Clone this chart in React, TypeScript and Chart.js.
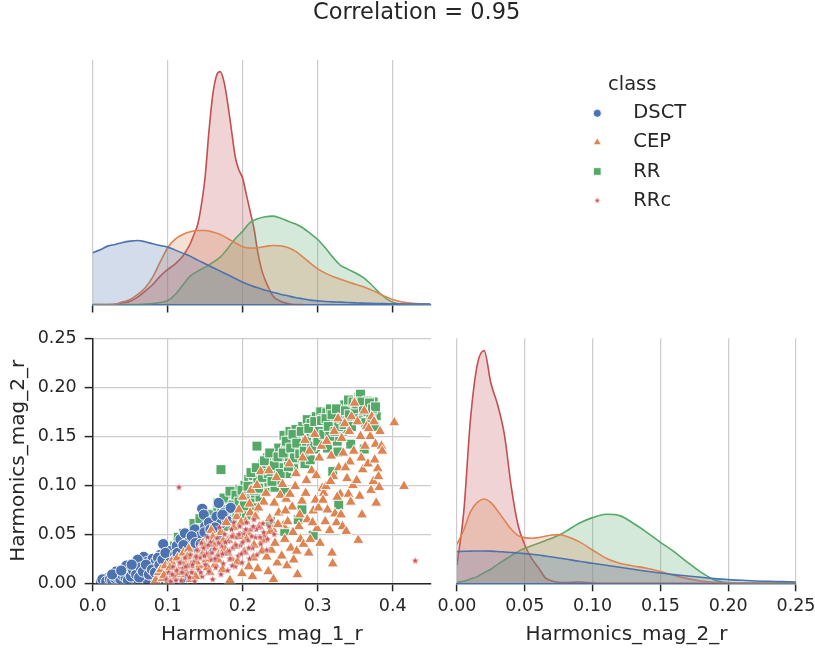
import React, { useEffect, useRef } from 'react';
import { Chart, registerables } from 'chart.js';

Chart.register(...registerables);

// ---------------- text ----------------
const TITLE = 'Correlation = 0.95';
const LEGEND_TITLE = 'class';
const CLASSES = ['DSCT', 'CEP', 'RR', 'RRc'];
const X_LABEL_1 = 'Harmonics_mag_1_r';
const X_LABEL_2 = 'Harmonics_mag_2_r';
const Y_LABEL = 'Harmonics_mag_2_r';

// ---------------- KDE of Harmonics_mag_1_r (top-left) ----------------
const kde1X = [0, 0.01, 0.02, 0.03, 0.04, 0.05, 0.06, 0.07, 0.08, 0.09, 0.1, 0.11, 0.12, 0.13, 0.14, 0.15, 0.16, 0.17, 0.18, 0.19, 0.2, 0.21, 0.22, 0.23, 0.24, 0.25, 0.26, 0.27, 0.28, 0.29, 0.3, 0.31, 0.32, 0.33, 0.34, 0.35, 0.36, 0.37, 0.38, 0.39, 0.4, 0.41, 0.42, 0.43, 0.44, 0.45];
const kde1DSCT = [1.55, 1.64, 1.75, 1.8, 1.86, 1.9, 1.92, 1.88, 1.82, 1.77, 1.72, 1.63, 1.54, 1.45, 1.33, 1.22, 1.11, 1.0, 0.89, 0.78, 0.67, 0.58, 0.5, 0.43, 0.37, 0.31, 0.26, 0.21, 0.17, 0.13, 0.11, 0.09, 0.08, 0.07, 0.06, 0.05, 0.04, 0.035, 0.03, 0.025, 0.02, 0.018, 0.015, 0.012, 0.01, 0.01];
const kde1CEP = [0, 0, 0, 0.01, 0.08, 0.15, 0.3, 0.5, 0.82, 1.28, 1.7, 1.96, 2.1, 2.18, 2.22, 2.22, 2.17, 2.1, 1.98, 1.85, 1.73, 1.69, 1.7, 1.74, 1.77, 1.76, 1.71, 1.6, 1.43, 1.24, 1.07, 0.94, 0.84, 0.76, 0.68, 0.61, 0.54, 0.45, 0.35, 0.24, 0.15, 0.09, 0.05, 0.03, 0.02, 0.01];
const kde1RR = [0, 0, 0, 0, 0, 0, 0, 0.01, 0.03, 0.06, 0.12, 0.3, 0.58, 0.85, 1.0, 1.12, 1.26, 1.42, 1.68, 1.97, 2.2, 2.46, 2.57, 2.63, 2.65, 2.59, 2.5, 2.42, 2.3, 2.13, 1.95, 1.7, 1.42, 1.18, 1.06, 0.95, 0.82, 0.63, 0.4, 0.2, 0.07, 0.02, 0, 0, 0, 0];
const kde1RRcX = [0.03, 0.04, 0.05, 0.06, 0.07, 0.08, 0.09, 0.1, 0.11, 0.12, 0.125, 0.13, 0.135, 0.14, 0.145, 0.15, 0.155, 0.16, 0.165, 0.17, 0.175, 0.18, 0.185, 0.19, 0.195, 0.2, 0.205, 0.21, 0.215, 0.22, 0.225, 0.23, 0.235, 0.24, 0.25, 0.26, 0.27, 0.28];
const kde1RRc = [0, 0.05, 0.1, 0.22, 0.4, 0.6, 0.85, 1.05, 1.22, 1.45, 1.62, 1.82, 2.1, 2.4, 3.0, 3.85, 5.2, 6.28, 6.86, 6.98, 6.68, 6.03, 5.23, 4.43, 4.03, 3.78, 3.28, 2.78, 2.28, 1.58, 1.06, 0.73, 0.48, 0.26, 0.1, 0.03, 0, 0];
const kde1Max = 7.33;

// ---------------- KDE of Harmonics_mag_2_r (bottom-right) ----------------
const kde2X = [0, 0.005, 0.01, 0.015, 0.02, 0.025, 0.03, 0.035, 0.04, 0.045, 0.05, 0.055, 0.06, 0.065, 0.07, 0.075, 0.08, 0.09, 0.1, 0.11, 0.12, 0.13, 0.14, 0.15, 0.16, 0.17, 0.18, 0.19, 0.2, 0.21, 0.22, 0.23, 0.24, 0.25];
const kde2DSCT = [0.95, 0.96, 0.965, 0.97, 0.97, 0.965, 0.955, 0.94, 0.925, 0.91, 0.89, 0.87, 0.85, 0.82, 0.79, 0.76, 0.73, 0.66, 0.6, 0.54, 0.48, 0.42, 0.36, 0.31, 0.26, 0.22, 0.18, 0.14, 0.11, 0.09, 0.07, 0.06, 0.05, 0.04];
const kde2CEP = [1.17, 1.6, 2.15, 2.43, 2.53, 2.42, 2.17, 1.89, 1.62, 1.43, 1.37, 1.35, 1.37, 1.41, 1.45, 1.46, 1.42, 1.25, 1.0, 0.75, 0.6, 0.52, 0.45, 0.35, 0.24, 0.14, 0.07, 0.03, 0.01, 0.005, 0, 0, 0, 0];
const kde2RR = [0.03, 0.06, 0.13, 0.2, 0.32, 0.42, 0.57, 0.7, 0.83, 0.95, 1.05, 1.13, 1.2, 1.28, 1.35, 1.44, 1.55, 1.8, 1.97, 2.07, 2.03, 1.8, 1.53, 1.23, 0.95, 0.63, 0.33, 0.1, 0.02, 0, 0, 0, 0, 0];
const kde2RRc = [0.55, 2.15, 4.95, 6.57, 6.98, 6.0, 5.35, 4.45, 2.9, 1.75, 1.15, 0.75, 0.47, 0.17, 0.07, 0.03, 0.02, 0.04, 0.01, 0, 0, 0, 0, 0, 0, 0, 0, 0, 0, 0, 0, 0, 0, 0];
const kde2Max = 7.35;

// ---------------- scatter: [Harmonics_mag_1_r, Harmonics_mag_2_r] ----------------
const pointsDSCT = [[0.011,0.001],[0.014,0.003],[0.017,0.001],[0.019,0.005],[0.022,0.002],[0.025,0.006],[0.027,0.001],[0.029,0.008],[0.032,0.003],[0.034,0.01],[0.036,0.001],[0.039,0.006],[0.041,0.012],[0.043,0.003],[0.046,0.009],[0.048,0.015],[0.05,0.002],[0.052,0.011],[0.055,0.006],[0.057,0.017],[0.059,0.001],[0.061,0.013],[0.063,0.021],[0.066,0.008],[0.068,0.027],[0.069,0.016],[0.072,0.004],[0.073,0.022],[0.076,0.012],[0.078,0.019],[0.08,0.025],[0.082,0.007],[0.084,0.022],[0.086,0.016],[0.088,0.002],[0.09,0.029],[0.092,0.011],[0.094,0.04],[0.095,0.021],[0.098,0.006],[0.1,0.026],[0.101,0.017],[0.104,0.033],[0.107,0.025],[0.109,0.012],[0.112,0.038],[0.114,0.02],[0.117,0.045],[0.119,0.03],[0.122,0.004],[0.123,0.051],[0.125,0.035],[0.128,0.042],[0.131,0.026],[0.134,0.037],[0.136,0.055],[0.139,0.046],[0.141,0.031],[0.143,0.048],[0.146,0.076],[0.148,0.07],[0.15,0.058],[0.152,0.035],[0.155,0.062],[0.158,0.05],[0.161,0.043],[0.165,0.068],[0.166,0.047],[0.168,0.082],[0.171,0.061],[0.175,0.072],[0.179,0.064],[0.184,0.077],[0.06,0.024],[0.045,0.018],[0.031,0.012],[0.07,0.011],[0.115,0.009],[0.13,0.015],[0.013,0.004],[0.018,0.002],[0.023,0.004],[0.026,0.003],[0.03,0.005],[0.033,0.006],[0.037,0.004],[0.04,0.008],[0.044,0.006],[0.047,0.003],[0.051,0.007],[0.054,0.013],[0.058,0.009],[0.062,0.006],[0.064,0.016],[0.067,0.012],[0.071,0.019],[0.075,0.009],[0.079,0.014],[0.083,0.011],[0.087,0.026],[0.089,0.019],[0.093,0.024],[0.097,0.031],[0.103,0.021],[0.106,0.014],[0.11,0.029],[0.113,0.031],[0.118,0.024],[0.121,0.039],[0.127,0.029],[0.132,0.048],[0.137,0.041],[0.144,0.04],[0.149,0.052],[0.157,0.055],[0.163,0.057],[0.173,0.07],[0.026,0.009],[0.038,0.013],[0.052,0.019]];
const pointsCEP = [[0.084,0.003],[0.088,0.011],[0.091,0.014],[0.093,0.005],[0.097,0.018],[0.1,0.009],[0.102,0.003],[0.105,0.022],[0.107,0.013],[0.11,0.006],[0.113,0.026],[0.115,0.017],[0.118,0.009],[0.121,0.031],[0.123,0.02],[0.125,0.012],[0.128,0.035],[0.13,0.004],[0.133,0.025],[0.135,0.016],[0.137,0.007],[0.139,0.028],[0.142,0.018],[0.144,0.034],[0.147,0.041],[0.149,0.038],[0.151,0.024],[0.154,0.028],[0.156,0.011],[0.158,0.054],[0.16,0.047],[0.163,0.019],[0.165,0.036],[0.168,0.029],[0.171,0.052],[0.173,0.014],[0.176,0.035],[0.178,0.062],[0.181,0.044],[0.183,0.003],[0.185,0.025],[0.188,0.057],[0.19,0.038],[0.192,0.068],[0.195,0.075],[0.197,0.048],[0.199,0.01],[0.2,0.088],[0.202,0.032],[0.204,0.063],[0.206,0.052],[0.208,0.017],[0.21,0.072],[0.211,0.095],[0.213,0.007],[0.215,0.039],[0.217,0.068],[0.219,0.1],[0.22,0.015],[0.222,0.058],[0.224,0.114],[0.226,0.033],[0.228,0.083],[0.23,0.047],[0.232,0.027],[0.234,0.012],[0.235,0.115],[0.236,0.066],[0.238,0.034],[0.24,0.055],[0.241,0.004],[0.243,0.041],[0.245,0.108],[0.246,0.021],[0.248,0.072],[0.25,0.09],[0.252,0.028],[0.254,0.059],[0.256,0.045],[0.258,0.086],[0.259,0.018],[0.26,0.063],[0.262,0.122],[0.264,0.036],[0.266,0.078],[0.268,0.024],[0.27,0.099],[0.272,0.033],[0.273,0.009],[0.275,0.058],[0.277,0.045],[0.279,0.084],[0.281,0.04],[0.283,0.146],[0.285,0.105],[0.286,0.065],[0.288,0.031],[0.29,0.045],[0.292,0.115],[0.294,0.074],[0.296,0.152],[0.297,0.085],[0.299,0.056],[0.301,0.077],[0.303,0.041],[0.305,0.14],[0.306,0.097],[0.308,0.092],[0.31,0.063],[0.311,0.099],[0.313,0.075],[0.316,0.054],[0.318,0.13],[0.319,0.031],[0.32,0.02],[0.321,0.109],[0.323,0.071],[0.325,0.062],[0.327,0.168],[0.328,0.118],[0.33,0.091],[0.331,0.07],[0.333,0.058],[0.334,0.133],[0.336,0.163],[0.338,0.053],[0.339,0.107],[0.341,0.091],[0.343,0.124],[0.344,0.083],[0.345,0.17],[0.347,0.1],[0.349,0.184],[0.352,0.105],[0.354,0.044],[0.356,0.089],[0.358,0.128],[0.359,0.07],[0.36,0.116],[0.362,0.176],[0.365,0.16],[0.367,0.122],[0.37,0.15],[0.371,0.095],[0.372,0.17],[0.374,0.104],[0.375,0.165],[0.377,0.142],[0.378,0.082],[0.38,0.117],[0.381,0.109],[0.383,0.155],[0.385,0.14],[0.386,0.135],[0.402,0.164],[0.415,0.099],[0.095,0.008],[0.103,0.016],[0.112,0.011],[0.119,0.021],[0.126,0.027],[0.131,0.018],[0.138,0.022],[0.146,0.029],[0.153,0.016],[0.161,0.04],[0.167,0.024],[0.174,0.043],[0.18,0.031],[0.187,0.048],[0.193,0.022],[0.198,0.062],[0.205,0.045],[0.209,0.081],[0.214,0.026],[0.221,0.077],[0.227,0.044],[0.231,0.092],[0.237,0.053],[0.242,0.082],[0.247,0.06],[0.253,0.101],[0.257,0.074],[0.263,0.091],[0.267,0.052],[0.271,0.112],[0.276,0.07],[0.28,0.128],[0.284,0.092],[0.289,0.135],[0.293,0.062],[0.298,0.11],[0.302,0.128],[0.307,0.085],[0.312,0.145],[0.317,0.104],[0.322,0.155],[0.326,0.088],[0.332,0.148],[0.337,0.118],[0.342,0.155],[0.348,0.135],[0.353,0.165],[0.357,0.15],[0.363,0.14],[0.368,0.158],[0.376,0.126],[0.382,0.098]];
const pointsRR = [[0.103,0.033],[0.106,0.029],[0.109,0.038],[0.113,0.041],[0.116,0.035],[0.119,0.046],[0.122,0.04],[0.125,0.043],[0.127,0.052],[0.131,0.047],[0.133,0.038],[0.136,0.055],[0.138,0.049],[0.141,0.06],[0.144,0.053],[0.147,0.045],[0.149,0.064],[0.152,0.057],[0.155,0.063],[0.157,0.05],[0.159,0.071],[0.162,0.059],[0.164,0.067],[0.166,0.077],[0.168,0.055],[0.171,0.116],[0.172,0.073],[0.174,0.064],[0.176,0.081],[0.178,0.069],[0.18,0.058],[0.182,0.085],[0.184,0.076],[0.186,0.066],[0.188,0.091],[0.19,0.082],[0.192,0.071],[0.194,0.087],[0.196,0.096],[0.198,0.078],[0.201,0.088],[0.203,0.1],[0.205,0.069],[0.206,0.093],[0.208,0.106],[0.21,0.084],[0.212,0.098],[0.214,0.11],[0.216,0.077],[0.217,0.092],[0.219,0.14],[0.22,0.105],[0.222,0.117],[0.223,0.088],[0.225,0.099],[0.227,0.122],[0.228,0.109],[0.23,0.093],[0.232,0.115],[0.233,0.128],[0.235,0.103],[0.237,0.063],[0.238,0.12],[0.24,0.111],[0.241,0.133],[0.243,0.098],[0.245,0.124],[0.246,0.115],[0.248,0.138],[0.249,0.105],[0.251,0.129],[0.253,0.118],[0.255,0.151],[0.256,0.053],[0.256,0.093],[0.257,0.136],[0.259,0.112],[0.26,0.143],[0.262,0.125],[0.263,0.155],[0.265,0.134],[0.266,0.146],[0.268,0.118],[0.27,0.139],[0.271,0.157],[0.273,0.127],[0.274,0.065],[0.275,0.148],[0.277,0.136],[0.279,0.075],[0.28,0.16],[0.281,0.143],[0.283,0.122],[0.284,0.153],[0.286,0.167],[0.287,0.138],[0.289,0.149],[0.29,0.126],[0.291,0.163],[0.293,0.145],[0.294,0.049],[0.295,0.157],[0.297,0.137],[0.298,0.17],[0.299,0.15],[0.301,0.163],[0.303,0.142],[0.304,0.175],[0.306,0.156],[0.307,0.168],[0.309,0.147],[0.31,0.16],[0.312,0.174],[0.313,0.138],[0.315,0.157],[0.317,0.178],[0.318,0.165],[0.32,0.114],[0.321,0.151],[0.322,0.17],[0.324,0.16],[0.326,0.145],[0.327,0.134],[0.328,0.08],[0.329,0.175],[0.331,0.163],[0.333,0.155],[0.334,0.17],[0.336,0.182],[0.338,0.158],[0.339,0.173],[0.341,0.187],[0.343,0.165],[0.344,0.142],[0.346,0.177],[0.348,0.169],[0.349,0.183],[0.351,0.166],[0.353,0.176],[0.355,0.19],[0.357,0.193],[0.358,0.172],[0.36,0.181],[0.362,0.137],[0.363,0.168],[0.365,0.177],[0.366,0.186],[0.368,0.171],[0.37,0.18],[0.372,0.164],[0.374,0.185],[0.375,0.175],[0.376,0.16],[0.378,0.171],[0.114,0.047],[0.121,0.051],[0.129,0.044],[0.135,0.061],[0.143,0.066],[0.151,0.05],[0.154,0.07],[0.161,0.064],[0.167,0.082],[0.17,0.068],[0.175,0.087],[0.179,0.075],[0.183,0.094],[0.187,0.08],[0.191,0.09],[0.195,0.083],[0.199,0.095],[0.202,0.079],[0.207,0.099],[0.211,0.113],[0.215,0.095],[0.218,0.118],[0.221,0.097],[0.226,0.108],[0.229,0.125],[0.234,0.112],[0.236,0.133],[0.239,0.104],[0.242,0.12],[0.247,0.129],[0.25,0.112],[0.254,0.133],[0.258,0.145],[0.261,0.119],[0.264,0.138],[0.267,0.152],[0.269,0.128],[0.272,0.143],[0.276,0.132],[0.278,0.155],[0.282,0.135],[0.285,0.145],[0.288,0.158],[0.292,0.14],[0.296,0.165],[0.3,0.145],[0.302,0.155],[0.305,0.166],[0.308,0.152],[0.311,0.168],[0.314,0.16],[0.316,0.15],[0.319,0.172],[0.323,0.155],[0.325,0.178],[0.328,0.16],[0.332,0.168],[0.335,0.162],[0.337,0.176],[0.34,0.166],[0.342,0.172],[0.345,0.16],[0.347,0.185],[0.35,0.175],[0.352,0.183],[0.356,0.168],[0.359,0.185],[0.361,0.176],[0.364,0.164],[0.367,0.175],[0.369,0.184],[0.371,0.168],[0.373,0.178],[0.377,0.18]];
const pointsRRc = [[0.098,0.004],[0.101,0.011],[0.104,0.002],[0.107,0.017],[0.109,0.007],[0.112,0.013],[0.115,0.098],[0.116,0.021],[0.118,0.003],[0.12,0.015],[0.123,0.026],[0.125,0.008],[0.127,0.018],[0.13,0.029],[0.132,0.011],[0.134,0.022],[0.136,0.002],[0.139,0.034],[0.141,0.014],[0.143,0.026],[0.145,0.041],[0.146,0.007],[0.148,0.036],[0.15,0.019],[0.152,0.03],[0.153,0.047],[0.155,0.012],[0.157,0.042],[0.158,0.024],[0.16,0.004],[0.162,0.035],[0.164,0.016],[0.166,0.046],[0.167,0.028],[0.169,0.057],[0.171,0.009],[0.172,0.038],[0.174,0.02],[0.176,0.05],[0.178,0.031],[0.18,0.013],[0.181,0.043],[0.183,0.025],[0.185,0.055],[0.187,0.036],[0.188,0.062],[0.19,0.017],[0.192,0.047],[0.194,0.028],[0.196,0.058],[0.197,0.039],[0.199,0.021],[0.201,0.051],[0.203,0.032],[0.205,0.062],[0.207,0.044],[0.209,0.025],[0.211,0.055],[0.213,0.036],[0.215,0.065],[0.217,0.047],[0.219,0.029],[0.222,0.057],[0.224,0.04],[0.227,0.061],[0.229,0.049],[0.232,0.034],[0.235,0.058],[0.238,0.064],[0.242,0.05],[0.43,0.023],[0.106,0.009],[0.111,0.003],[0.119,0.011],[0.124,0.017],[0.129,0.006],[0.133,0.019],[0.138,0.027],[0.144,0.011],[0.149,0.028],[0.154,0.039],[0.159,0.031],[0.163,0.025],[0.168,0.041],[0.173,0.03],[0.177,0.042],[0.182,0.033],[0.186,0.048],[0.191,0.039],[0.195,0.05],[0.2,0.042],[0.204,0.055],[0.208,0.036],[0.212,0.048],[0.218,0.055],[0.223,0.047],[0.228,0.052],[0.233,0.045],[0.198,0.03],[0.186,0.018],[0.214,0.058]];

// ---------------- axes ----------------
const X1_MAX = 0.451;
const X1_STEP = 0.1;
const Y_MAX = 0.25;
const Y_STEP = 0.05;
const X2_MAX = 0.25;
const X2_STEP = 0.05;

// ---------------- styling / layout ----------------
const CW = 815;
const CH = 653;
const FONT = "'DejaVu Sans', 'Liberation Sans', Arial, sans-serif";
const INK = '#262626';
const GRID = '#cccccc';
const COLORS = ['#4c72b0', '#dd8452', '#55a868', '#c44e52'];
const PANEL_A = { left: 92.7, right: 431, top: 60, bottom: 304.5 };
const PANEL_B = { left: 92.7, right: 431, top: 338.3, bottom: 583.3 };
const PANEL_C = { left: 457, right: 796, top: 338.3, bottom: 583.3 };
const TICK_FONT = { family: FONT, size: 17.5, lineHeight: 1.2 };
const LABEL_FONT = { family: FONT, size: 20, lineHeight: 1.2 };

function rgba(hex: string, a: number) {
  const n = parseInt(hex.slice(1), 16);
  return `rgba(${(n >> 16) & 255},${(n >> 8) & 255},${n & 255},${a})`;
}

function makeStar(outer: number, color: string) {
  const size = Math.ceil(outer * 2 + 2);
  const c = document.createElement('canvas');
  c.width = size;
  c.height = size;
  const g = c.getContext('2d')!;
  const cx = size / 2, cy = size / 2, inner = outer * 0.4;
  g.beginPath();
  for (let k = 0; k < 10; k++) {
    const r = k % 2 === 0 ? outer : inner;
    const a = -Math.PI / 2 + (k * Math.PI) / 5;
    const px = cx + r * Math.cos(a), py = cy + r * Math.sin(a);
    if (k === 0) g.moveTo(px, py); else g.lineTo(px, py);
  }
  g.closePath();
  g.fillStyle = color;
  g.fill();
  g.strokeStyle = '#ffffff';
  g.lineWidth = 0.5;
  g.stroke();
  return c;
}

function kdeDataset(label: string, xs: number[], ys: number[], color: string) {
  return {
    label,
    data: xs.map((x, i) => ({ x, y: ys[i] })),
    borderColor: color,
    backgroundColor: rgba(color, 0.25),
    borderWidth: 1.6,
    fill: 'origin',
    pointRadius: 0,
    cubicInterpolationMode: 'monotone',
  };
}

function xAxis(max: number, step: number, decimals: number, showLabels: boolean, title: string | null, fitHeight: number, borderColor: string) {
  return {
    type: 'linear',
    position: 'bottom',
    min: 0,
    max,
    ticks: {
      display: showLabels,
      stepSize: step,
      includeBounds: false,
      maxRotation: 0,
      minRotation: 0,
      autoSkip: false,
      padding: 5,
      color: INK,
      font: TICK_FONT,
      callback: (v: number) => Number(v).toFixed(decimals),
    },
    grid: { color: GRID, lineWidth: 1.2, tickColor: INK, tickLength: 8, tickWidth: 1.5 },
    border: { display: true, color: borderColor, width: 1.5 },
    title: title
      ? { display: true, text: title, color: INK, font: LABEL_FONT, padding: { top: 4, bottom: 6 } }
      : { display: false },
    afterFit: (s: any) => {
      s.height = fitHeight;
      s.paddingLeft = 0;
      s.paddingRight = 0;
    },
  };
}

function overlayPlugin(star: HTMLCanvasElement) {
  return {
    id: 'figureText',
    afterDraw(chart: any) {
      const ctx = chart.ctx as CanvasRenderingContext2D;
      ctx.save();
      ctx.fillStyle = INK;
      ctx.textBaseline = 'middle';
      ctx.textAlign = 'left';
      ctx.font = `22.5px ${FONT}`;
      ctx.fillText(TITLE, 313, 13.5);
      ctx.font = `19.5px ${FONT}`;
      ctx.fillText(LEGEND_TITLE, 608, 85);
      const mx = 597.3;
      CLASSES.forEach((name, i) => {
        const y = 113.3 + i * 29.1;
        const col = COLORS[i];
        ctx.fillStyle = col;
        ctx.strokeStyle = '#ffffff';
        ctx.lineWidth = 0.8;
        ctx.beginPath();
        if (i === 0) {
          ctx.arc(mx, y, 4, 0, Math.PI * 2);
          ctx.fill();
          ctx.stroke();
        } else if (i === 1) {
          const r = 4.6;
          ctx.moveTo(mx, y - r);
          ctx.lineTo(mx + r * 0.866, y + r * 0.5);
          ctx.lineTo(mx - r * 0.866, y + r * 0.5);
          ctx.closePath();
          ctx.fill();
          ctx.stroke();
        } else if (i === 2) {
          ctx.rect(mx - 3.8, y - 3.8, 7.6, 7.6);
          ctx.fill();
          ctx.stroke();
        } else {
          ctx.drawImage(star, mx - star.width / 2, y - star.height / 2);
        }
        ctx.fillStyle = INK;
        ctx.fillText(name, 633.3, y);
      });
      ctx.restore();
    },
  };
}

export default function App() {
  const refA = useRef<HTMLCanvasElement>(null);
  const refB = useRef<HTMLCanvasElement>(null);
  const refC = useRef<HTMLCanvasElement>(null);

  useEffect(() => {
    const legendStar = makeStar(3.6, COLORS[3]);
    const pointStar = makeStar(4.2, COLORS[3]);
    const common = {
      responsive: false,
      animation: false,
      devicePixelRatio: 1,
      events: [],
      plugins: { legend: { display: false }, tooltip: { enabled: false } },
    };

    const chartA = new Chart(refA.current!, {
      type: 'line',
      data: {
        datasets: [
          kdeDataset(CLASSES[0], kde1X, kde1DSCT, COLORS[0]),
          kdeDataset(CLASSES[1], kde1X, kde1CEP, COLORS[1]),
          kdeDataset(CLASSES[2], kde1X, kde1RR, COLORS[2]),
          kdeDataset(CLASSES[3], kde1RRcX, kde1RRc, COLORS[3]),
        ],
      },
      options: {
        ...common,
        layout: { padding: { left: PANEL_A.left, right: CW - PANEL_A.right, top: PANEL_A.top, bottom: CH - PANEL_A.bottom - 20 } },
        scales: {
          x: xAxis(X1_MAX, X1_STEP, 1, false, null, 20, COLORS[0]),
          y: { display: false, min: 0, max: kde1Max },
        },
      },
    } as any);

    const mk = (pts: number[][]) => pts.map(([x, y]) => ({ x, y }));
    const chartB = new Chart(refB.current!, {
      type: 'scatter',
      data: {
        datasets: [
          { label: CLASSES[0], data: mk(pointsDSCT), order: 2, pointStyle: 'circle', pointRadius: 5.6, backgroundColor: COLORS[0], borderColor: '#ffffff', borderWidth: 0.9 },
          { label: CLASSES[1], data: mk(pointsCEP), order: 1, pointStyle: 'triangle', pointRadius: 6.4, backgroundColor: COLORS[1], borderColor: '#ffffff', borderWidth: 0.9 },
          { label: CLASSES[2], data: mk(pointsRR), order: 3, pointStyle: 'rect', pointRadius: 7, backgroundColor: COLORS[2], borderColor: '#ffffff', borderWidth: 0.9 },
          { label: CLASSES[3], data: mk(pointsRRc), order: 0, pointStyle: pointStar, pointRadius: 3, backgroundColor: COLORS[3], borderColor: '#ffffff', borderWidth: 0.5 },
        ],
      },
      options: {
        ...common,
        layout: { padding: { left: 0, right: CW - PANEL_B.right, top: PANEL_B.top, bottom: 0 } },
        scales: {
          x: xAxis(X1_MAX, X1_STEP, 1, true, X_LABEL_1, CH - PANEL_B.bottom, INK),
          y: {
            type: 'linear',
            min: 0,
            max: Y_MAX,
            ticks: { stepSize: Y_STEP, padding: 8, color: INK, font: TICK_FONT, callback: (v: number) => Number(v).toFixed(2) },
            grid: { color: GRID, lineWidth: 1.2, tickColor: INK, tickLength: 8, tickWidth: 1.5 },
            border: { display: true, color: INK, width: 1.5 },
            title: { display: true, text: Y_LABEL, color: INK, font: LABEL_FONT, padding: { top: 6.5, bottom: 4 } },
            afterFit: (s: any) => {
              s.width = PANEL_B.left;
            },
          },
        },
      },
    } as any);

    const chartC = new Chart(refC.current!, {
      type: 'line',
      data: {
        datasets: [
          kdeDataset(CLASSES[0], kde2X, kde2DSCT, COLORS[0]),
          kdeDataset(CLASSES[1], kde2X, kde2CEP, COLORS[1]),
          kdeDataset(CLASSES[2], kde2X, kde2RR, COLORS[2]),
          kdeDataset(CLASSES[3], kde2X, kde2RRc, COLORS[3]),
        ],
      },
      options: {
        ...common,
        layout: { padding: { left: PANEL_C.left, right: CW - PANEL_C.right, top: PANEL_C.top, bottom: 0 } },
        scales: {
          x: xAxis(X2_MAX, X2_STEP, 2, true, X_LABEL_2, CH - PANEL_C.bottom, COLORS[0]),
          y: { display: false, min: 0, max: kde2Max },
        },
      },
      plugins: [overlayPlugin(legendStar)],
    } as any);

    return () => {
      chartA.destroy();
      chartB.destroy();
      chartC.destroy();
    };
  }, []);

  const canvasStyle: React.CSSProperties = { position: 'absolute', left: 0, top: 0 };
  return (
    <div style={{ position: 'absolute', left: 0, top: 0, width: CW, height: CH, background: '#ffffff' }}>
      <canvas ref={refA} width={CW} height={CH} style={canvasStyle} />
      <canvas ref={refB} width={CW} height={CH} style={canvasStyle} />
      <canvas ref={refC} width={CW} height={CH} style={canvasStyle} />
    </div>
  );
}
